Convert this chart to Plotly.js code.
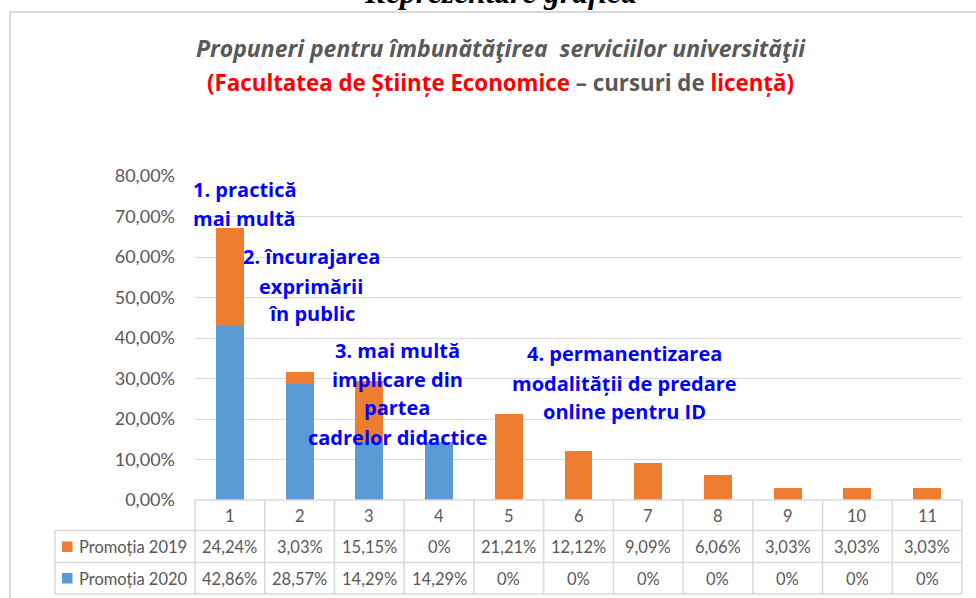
<!DOCTYPE html>
<html>
<head>
<meta charset="utf-8">
<script src="https://cdn.plot.ly/plotly-3.0.1.min.js"></script>
<style>html,body{margin:0;padding:0;background:#fff;}#chart{width:976px;height:598px;}</style>
</head>
<body>
<div id="chart"></div>
<script>
// ---- data ----
const categories = ["1","2","3","4","5","6","7","8","9","10","11"];
const seriesNames = ["Promoția 2019", "Promoția 2020"];
const promotia2019 = [24.24, 3.03, 15.15, 0, 21.21, 12.12, 9.09, 6.06, 3.03, 3.03, 3.03];
const promotia2020 = [42.86, 28.57, 14.29, 14.29, 0, 0, 0, 0, 0, 0, 0];
const yTickVals = [0, 0.1, 0.2, 0.3, 0.4, 0.5, 0.6, 0.7, 0.8];
const superTitle = "Reprezentare grafică";
const titleLine1 = "Propuneri pentru îmbunătăţirea\u00a0 serviciilor universităţii";
const titleLine2Red1 = "(Facultatea de Științe Economice";
const titleLine2Gray = " – cursuri de ";
const titleLine2Red2 = "licență)";
const note1 = ["1. practică", "mai multă"];
const note2 = ["2. încurajarea", "exprimării", "în public"];
const note3 = ["3. mai multă", "implicare din", "partea", "cadrelor didactice"];
const note4 = ["4. permanentizarea", "modalității de predare", "online pentru ID"];

// ---- geometry helpers (pixel -> paper) ----
const W = 976, H = 598, L = 195, R = 962, T = 176, B = 500;
const PW = R - L, PH = B - T;
const px = v => (v - L) / PW;
const py = v => (B - v) / PH;

const colors = {orange: "#ED7D31", blue: "#5B9BD5", grid: "#d9d9d9", text: "#595959", note: "#0000FF", red: "#FF0000"};
const FONT = "Lato, 'Open Sans', sans-serif";
const FONT2 = "'Open Sans', Lato, sans-serif";

const xs = categories.map((c, i) => i + 1);
const fmt = v => v === 0 ? "0%" : v.toFixed(2).replace(".", ",") + "%";

const traces = [
  {type: "bar", name: seriesNames[1], x: xs, y: promotia2020.map(v => v / 100), marker: {color: colors.blue}, hoverinfo: "skip"},
  {type: "bar", name: seriesNames[0], x: xs, y: promotia2019.map(v => v / 100), marker: {color: colors.orange}, hoverinfo: "skip"}
];

const shapes = [];
const annotations = [];

// outer frame
shapes.push({type: "rect", xref: "paper", yref: "paper", x0: px(10), x1: px(990), y0: py(12), y1: py(612),
  line: {color: colors.grid, width: 2}, layer: "below"});

// table grid
const rowY = [500, 530.5, 562.5, 594];
shapes.push({type: "line", xref: "paper", yref: "paper", x0: 0, x1: 1, y0: py(rowY[0]), y1: py(rowY[0]), line: {color: colors.grid, width: 1.5}});
for (let r = 1; r < rowY.length; r++) {
  shapes.push({type: "line", xref: "paper", yref: "paper", x0: px(55), x1: 1, y0: py(rowY[r]), y1: py(rowY[r]), line: {color: colors.grid, width: 1.5}});
}
for (let i = 0; i <= categories.length; i++) {
  shapes.push({type: "line", xref: "paper", yref: "paper", x0: i / categories.length, x1: i / categories.length,
    y0: py(rowY[0]), y1: py(rowY[3]), line: {color: colors.grid, width: 1.5}});
}
shapes.push({type: "line", xref: "paper", yref: "paper", x0: px(55), x1: px(55), y0: py(rowY[1]), y1: py(rowY[3]), line: {color: colors.grid, width: 1.5}});

// legend keys in table
shapes.push({type: "rect", xref: "paper", yref: "paper", x0: px(62), x1: px(72.5), y0: py(541.5), y1: py(552), fillcolor: colors.orange, line: {width: 0}});
shapes.push({type: "rect", xref: "paper", yref: "paper", x0: px(62), x1: px(72.5), y0: py(573), y1: py(583.5), fillcolor: colors.blue, line: {width: 0}});

const tFont = {family: FONT, size: 16.5, color: colors.text};
annotations.push({xref: "paper", yref: "paper", x: px(77), y: py(547), xanchor: "left", yanchor: "middle", text: seriesNames[0], showarrow: false, font: tFont});
annotations.push({xref: "paper", yref: "paper", x: px(77), y: py(578.5), xanchor: "left", yanchor: "middle", text: seriesNames[1], showarrow: false, font: tFont});

categories.forEach((c, i) => {
  annotations.push({xref: "x", yref: "paper", x: xs[i], y: py(515.5), text: c, showarrow: false, font: tFont, xanchor: "center", yanchor: "middle"});
  annotations.push({xref: "x", yref: "paper", x: xs[i], y: py(547), text: fmt(promotia2019[i]), showarrow: false, font: tFont, xanchor: "center", yanchor: "middle"});
  annotations.push({xref: "x", yref: "paper", x: xs[i], y: py(578.5), text: fmt(promotia2020[i]), showarrow: false, font: tFont, xanchor: "center", yanchor: "middle"});
});

// titles
annotations.push({xref: "paper", yref: "paper", x: px(500), y: py(-7), xanchor: "center", yanchor: "middle",
  text: "<b><i>" + superTitle + "</i></b>", showarrow: false, font: {family: "'Liberation Serif', 'Times New Roman', serif", size: 31.5, color: "#000"}});
annotations.push({xref: "paper", yref: "paper", x: px(500.5), y: py(48), xanchor: "center", yanchor: "middle",
  text: "<b><i>" + titleLine1 + "</i></b>", showarrow: false, font: {family: FONT2, size: 23, color: colors.text}});
annotations.push({xref: "paper", yref: "paper", x: px(500), y: py(82), xanchor: "center", yanchor: "middle",
  text: "<b><span style=\"color:" + colors.red + "\">" + titleLine2Red1 + "</span>" + titleLine2Gray + "<span style=\"color:" + colors.red + "\">" + titleLine2Red2 + "</span></b>",
  showarrow: false, font: {family: FONT2, size: 22.3, color: colors.text}});

// blue notes (one annotation per line)
const nFont = {family: FONT2, size: 20, color: colors.note};
function addNote(lines, xPix, yPix, anchor) {
  lines.forEach((t, k) => {
    annotations.push({xref: "paper", yref: "paper", x: px(xPix), y: py(yPix[k]), xanchor: anchor, yanchor: "middle",
      text: "<b>" + t + "</b>", showarrow: false, font: nFont});
  });
}
addNote(note1, 191, [189, 218], "left");
addNote(note2, 311, [256, 286, 313], "center");
addNote(note3, 397, [350, 379, 407, 437], "center");
addNote(note4, 624, [353, 383, 411], "center");

const layout = {
  width: W, height: H,
  margin: {l: L, r: W - R, t: T, b: H - B, pad: 0},
  paper_bgcolor: "#fff", plot_bgcolor: "#fff",
  barmode: "stack", bargap: 0.6,
  showlegend: false,
  separators: ", ",
  font: {family: FONT, color: colors.text},
  xaxis: {range: [0.5, 11.5], showticklabels: false, showgrid: false, zeroline: false, showline: false, ticks: "", fixedrange: true},
  yaxis: {range: [0, 0.8], tickvals: yTickVals, tickformat: ".2%", showgrid: true, gridcolor: colors.grid, gridwidth: 1,
    zeroline: false, showline: false, ticks: "", ticklabelstandoff: 19, tickfont: {family: FONT, size: 18, color: colors.text}, fixedrange: true},
  shapes: shapes,
  annotations: annotations
};

Plotly.newPlot("chart", traces, layout, {displayModeBar: false, staticPlot: true});
</script>
</body>
</html>
